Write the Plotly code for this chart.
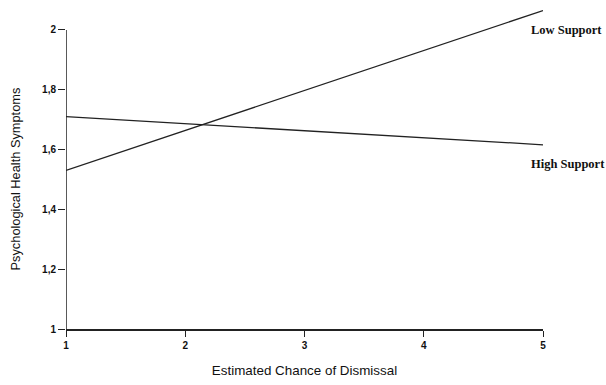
import plotly.graph_objects as go

x_vals = [1, 5]
low_support = [1.53, 2.065]
high_support = [1.71, 1.616]
series_names = ["Low Support", "High Support"]
label_y = [2.0, 1.553]
y_ticks = [1, 1.2, 1.4, 1.6, 1.8, 2]
y_tick_text = ["1", "1,2", "1,4", "1,6", "1,8", "2"]
x_ticks = [1, 2, 3, 4, 5]
x_title = "Estimated Chance of Dismissal"
y_title = "Psychological Health Symptoms"

fig = go.Figure()
for vals in [low_support, high_support]:
    fig.add_trace(go.Scatter(x=x_vals, y=vals, mode="lines",
                             line=dict(color="#222222", width=1.3),
                             showlegend=False, hoverinfo="skip"))

for name, ly in zip(series_names, label_y):
    fig.add_annotation(x=x_vals[-1], y=ly, xref="x", yref="y", text="<b>" + name + "</b>",
                       showarrow=False, xanchor="left", xshift=-14,
                       font=dict(family="Liberation Serif", size=12.5, color="#111111"))

# y-axis title centred on the tick span
fig.add_annotation(x=0, y=(y_ticks[0] + y_ticks[-1]) / 2, xref="paper", yref="y",
                   text=y_title, textangle=-90, showarrow=False,
                   xanchor="center", yanchor="middle", xshift=-51,
                   font=dict(family="Liberation Sans", size=12.8, color="#111111"))

# y axis line only spanning tick range
fig.add_shape(type="line", xref="x", yref="y", x0=x_vals[0], x1=x_vals[0],
              y0=y_ticks[0], y1=y_ticks[-1], line=dict(color="#222222", width=1.5))

fig.update_layout(
    width=606, height=385,
    margin=dict(l=66, r=63, t=9, b=48),
    paper_bgcolor="white", plot_bgcolor="white",
    font=dict(family="Liberation Sans", color="#111111"),
    xaxis=dict(range=[1, 5], tickvals=x_ticks, ticktext=["<b>%d</b>" % v for v in x_ticks],
               showline=True, linecolor="#222222", linewidth=1.5,
               ticks="outside", ticklen=6, tickcolor="#222222",
               showgrid=False, zeroline=False,
               tickfont=dict(size=10),
               title=dict(text=x_title, font=dict(size=13.4), standoff=16)),
    yaxis=dict(range=[1, 2.07], tickvals=y_ticks, ticktext=["<b>%s</b>" % t for t in y_tick_text],
               showline=False, ticks="outside", ticklen=7, tickcolor="#222222",
               showgrid=False, zeroline=False,
               tickfont=dict(size=10)),
)

fig.write_html(
    "out.html",
    config={"displayModeBar": False},
    post_script="document.body.style.margin='0';",
)
